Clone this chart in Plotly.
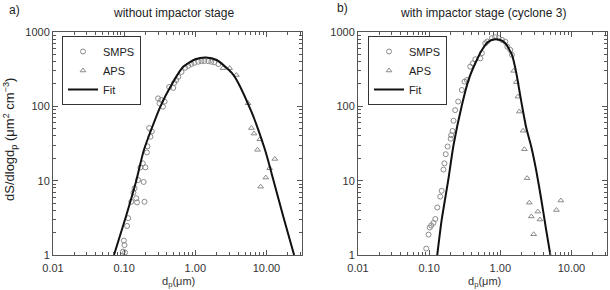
import plotly.graph_objects as go

# ---------------- data ----------------
# Panel a: without impactor stage
a_smps_x = [0.099, 0.101, 0.096, 0.103, 0.114, 0.110, 0.140, 0.135, 0.148, 0.126, 0.152, 0.193,
            0.157, 0.188, 0.183, 0.169, 0.199, 0.213, 0.209, 0.225, 0.245, 0.234,
            0.300, 0.314, 0.351, 0.370, 0.332, 0.43, 0.49, 0.506, 0.54, 0.577,
            0.64, 0.72, 0.796, 0.88, 0.97, 1.10, 1.22, 1.34, 1.52, 1.68, 1.85, 2.11]
a_smps_y = [1.56, 1.36, 1.11, 1.08, 3.13, 2.46, 7.9, 6.9, 5.8, 5.2, 5.1, 5.2,
            10.2, 9.6, 17.1, 15.1, 15.1, 29, 24, 51, 46, 39,
            128, 110, 99, 116, 122, 182, 177, 207, 226, 249,
            290, 330, 350, 370, 385, 398, 405, 407, 405, 398, 390, 370]
a_aps_x = [2.45, 3.04, 3.78, 5.52, 6.15, 6.7, 8.06, 7.5, 13.1, 11.1, 9.8, 8.3]
a_aps_y = [326, 326, 264, 110, 51, 43, 36, 26, 19.6, 14.7, 11, 8.3]
a_fit_x = [0.072, 0.105, 0.148, 0.19, 0.324, 0.47, 0.676, 1.0, 1.41, 2.0, 3.43, 6.17, 9.55, 12.6, 17.4, 24.5]
a_fit_y = [1, 3.2, 10, 26, 100, 200, 340, 430, 455, 420, 265, 84, 26, 10, 3.2, 1]

# Panel b: with impactor stage (cyclone 3)
b_smps_x = [0.091, 0.098, 0.102, 0.107, 0.115, 0.122, 0.130, 0.143, 0.150, 0.159, 0.164, 0.171,
            0.182, 0.201, 0.204, 0.213, 0.220, 0.232, 0.256, 0.288, 0.314, 0.340, 0.378, 0.41,
            0.445, 0.523, 0.552, 0.615, 0.656, 0.764, 0.85, 0.946, 1.057, 1.175, 1.255, 1.38, 1.46]
b_smps_y = [1.22, 1.88, 2.34, 2.5, 2.7, 3.05, 4.36, 6.1, 7.3, 14.1, 17.1, 22.7,
            28.8, 36.6, 41, 46.6, 64, 89, 116, 166, 215, 226, 342, 378,
            430, 442, 519, 706, 745, 826, 851, 826, 783, 742, 633, 574, 493]
b_aps_x = [1.54, 1.68, 1.77, 1.85, 2.09, 2.18, 2.38, 2.56, 2.73, 2.95, 3.37, 3.6, 6.15, 7.1]
b_aps_y = [300, 212, 135, 85, 47, 26.5, 10.8, 5.06, 3.3, 1.9, 3.83, 3.0, 4.03, 5.4]
b_fit_x = [0.130, 0.150, 0.185, 0.220, 0.289, 0.358, 0.445, 0.552, 0.684, 0.85, 1.0, 1.175, 1.46,
           1.68, 1.88, 2.07, 2.32, 2.73, 3.21, 3.78, 4.37, 5.06]
b_fit_y = [1, 2.96, 10, 30, 104, 227, 380, 574, 742, 800, 780, 707, 491,
           281, 151, 90, 51, 28.4, 13.5, 5.5, 2.31, 1]

x_tickvals = [0.01, 0.1, 1, 10]
x_ticktext = ["0.01", "0.10", "1.00", "10.00"]
y_tickvals = [1, 10, 100, 1000]
y_ticktext = ["1", "10", "100", "1000"]

# ---------------- figure ----------------
FONT = "Liberation Sans, Arial, sans-serif"
MK = "#8a8a8a"
fig = go.Figure()

def add_panel(sx, sy, ax, ay, fx, fy, xa, ya, leg):
    fig.add_trace(go.Scatter(x=sx, y=sy, mode="markers", name="SMPS", xaxis=xa, yaxis=ya, legend=leg,
                             marker=dict(symbol="circle-open", size=5, color=MK, line=dict(width=1))))
    fig.add_trace(go.Scatter(x=ax, y=ay, mode="markers", name="APS", xaxis=xa, yaxis=ya, legend=leg,
                             marker=dict(symbol="triangle-up-open", size=5, color=MK, line=dict(width=1))))
    fig.add_trace(go.Scatter(x=fx, y=fy, mode="lines", name="Fit", xaxis=xa, yaxis=ya, legend=leg,
                             line=dict(color="#111111", width=2, shape="spline", smoothing=0.6)))

add_panel(a_smps_x, a_smps_y, a_aps_x, a_aps_y, a_fit_x, a_fit_y, "x", "y", "legend")
add_panel(b_smps_x, b_smps_y, b_aps_x, b_aps_y, b_fit_x, b_fit_y, "x2", "y2", "legend2")

axcol = "#555555"
xcommon = dict(type="log", range=[-2, 1.5], tickvals=x_tickvals, ticktext=x_ticktext, automargin=False,
               showgrid=False, zeroline=False, showline=True, linecolor=axcol, linewidth=1,
               mirror="allticks", ticks="inside", ticklen=5, tickcolor=axcol, ticklabelstandoff=3,
               minor=dict(ticks="inside", ticklen=3, dtick="D1", tickcolor=axcol, showgrid=False),
               tickfont=dict(family=FONT, size=11, color="#333333"))
ycommon = dict(type="log", range=[0, 3], tickvals=y_tickvals, ticktext=y_ticktext, automargin=False,
               showgrid=False, zeroline=False, showline=True, linecolor=axcol, linewidth=1,
               mirror="allticks", ticks="inside", ticklen=5, tickcolor=axcol,
               minor=dict(ticks="inside", ticklen=3, dtick="D1", tickcolor=axcol, showgrid=False),
               tickfont=dict(family=FONT, size=11, color="#333333"))

yd = [1 - 255 / 290, 1 - 32 / 290]
legcommon = dict(xanchor="left", yanchor="top", bordercolor="#333333", borderwidth=1, bgcolor="white",
                 font=dict(family=FONT, size=11, color="#222222"), tracegroupgap=0, itemwidth=30)
fig.update_layout(
    width=610, height=290, margin=dict(l=0, r=0, t=0, b=0, autoexpand=False),
    paper_bgcolor="white", plot_bgcolor="white",
    font=dict(family=FONT, size=12, color="#222222"),
    xaxis=dict(domain=[53 / 610, 302 / 610], anchor="y", **xcommon),
    yaxis=dict(domain=yd, anchor="x", **ycommon),
    xaxis2=dict(domain=[358 / 610, 607 / 610], anchor="y2", **xcommon),
    yaxis2=dict(domain=yd, anchor="x2", **ycommon),
    legend=dict(x=62 / 610, y=1 - 36 / 290, **legcommon),
    legend2=dict(x=368 / 610, y=1 - 36 / 290, **legcommon),
    showlegend=True,
)

ann = [
    dict(text="a)", x=14 / 610, y=1 - 10 / 290, font=dict(size=12, color="#222222")),
    dict(text="without impactor stage", x=173 / 610, y=1 - 13 / 290, font=dict(size=12)),
    dict(text="b)", x=342 / 610, y=1 - 8 / 290, font=dict(size=12, color="#222222")),
    dict(text="with impactor stage (cyclone 3)", x=483 / 610, y=1 - 13 / 290, font=dict(size=12)),
    dict(text="d<sub>p</sub>(μm)", x=178 / 610, y=1 - 282 / 290, font=dict(size=11, color="#333333")),
    dict(text="d<sub>p</sub>(μm)", x=484 / 610, y=1 - 282 / 290, font=dict(size=11, color="#333333")),
    dict(text="dS/dlogd<sub>p</sub> (μm<sup>2</sup> cm<sup>−3</sup>)", x=10 / 610, y=1 - 140 / 290,
         textangle=-90, font=dict(size=13, color="#222222")),
]
for a in ann:
    a.update(xref="paper", yref="paper", showarrow=False, xanchor="center", yanchor="middle")
    a["font"]["family"] = FONT
fig.update_layout(annotations=ann)

fig.write_html("out.html")
